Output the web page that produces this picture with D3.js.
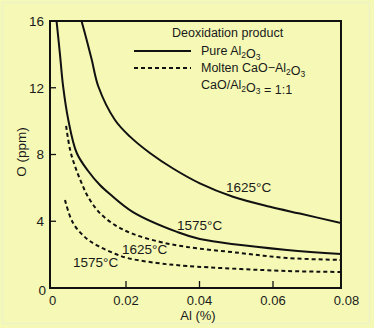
<!DOCTYPE html>
<html><head><meta charset="utf-8">
<script src="https://cdn.jsdelivr.net/npm/d3@7"></script>
<style>
html,body{margin:0;padding:0;background:#f5f9b5;}
svg{display:block;}
text{font-family:"Liberation Sans",Arial,Helvetica,sans-serif;fill:#1a1a1a;}
</style></head>
<body>
<script>
// ---- data (Al in %, O in ppm) ----
const xTicks = [0, 0.02, 0.04, 0.06, 0.08];
const xTickLabels = ["0", "0.02", "0.04", "0.06", "0.08"];
const yTicks = [0, 4, 8, 12, 16];
const yTickLabels = ["0", "4", "8", "12", "16"];

const pure1625Al = [0.0079, 0.0093, 0.0107, 0.0125, 0.0170, 0.0211, 0.0265, 0.0328, 0.0401, 0.0491, 0.0592, 0.0673, 0.0785];
const pure1625O  = [16.0, 14.86, 13.66, 12.06, 10.07, 9.07, 8.09, 7.16, 6.27, 5.47, 4.87, 4.46, 3.89];

const pure1575Al = [0.0011, 0.0020, 0.0029, 0.0043, 0.0066, 0.0097, 0.0129, 0.0156, 0.0219, 0.0339, 0.0401, 0.0638, 0.0785];
const pure1575O  = [16.0, 14.08, 12.06, 10.07, 8.09, 7.01, 6.17, 5.63, 4.55, 3.36, 2.94, 2.28, 2.04];

const cao1625Al = [0.0037, 0.0048, 0.0061, 0.0078, 0.0097, 0.0129, 0.0170, 0.0219, 0.0293, 0.0366, 0.0510, 0.0638, 0.0785];
const cao1625O  = [9.71, 8.27, 7.31, 6.35, 5.45, 4.49, 3.77, 3.24, 2.76, 2.46, 2.10, 1.80, 1.68];

const cao1575Al = [0.0034, 0.0056, 0.0094, 0.0129, 0.0165, 0.0203, 0.0284, 0.0366, 0.0638, 0.0785];
const cao1575O  = [5.27, 3.89, 2.94, 2.46, 2.10, 1.80, 1.50, 1.32, 1.02, 0.96];

const seriesNames = ["Pure 1625", "Pure 1575", "CaO 1625", "CaO 1575"];
const curveLabels = ["1625°C", "1575°C", "1625°C", "1575°C"];
const xAxisEnd = 0.0785;

// ---- chart ----
const W = 374, H = 328;
const svg = d3.select("body").append("svg").attr("width", W).attr("height", H);

svg.append("rect").attr("x", 2.5).attr("y", 2.5).attr("width", W - 7).attr("height", H - 7)
  .attr("fill", "#f5f9b5").attr("stroke", "#eef3c6").attr("stroke-width", 1.5);

const x = d3.scaleLinear().domain([0, 0.08]).range([52.5, 346.5]);
const y = d3.scaleLinear().domain([0, 16]).range([288, 21]);

const pLeft = 50, pRight = x(xAxisEnd), pTop = y(16), pBottom = y(0);

svg.append("clipPath").attr("id", "clip").append("rect")
  .attr("x", pLeft).attr("y", pTop).attr("width", pRight - pLeft).attr("height", pBottom - pTop);

const line = d3.line().x(d => x(d[0])).y(d => y(d[1])).curve(d3.curveCatmullRom.alpha(0.5));

const zip = (a, b) => a.map((v, i) => [v, b[i]]);
const series = [
  {pts: zip(pure1625Al, pure1625O), dash: null},
  {pts: zip(pure1575Al, pure1575O), dash: null},
  {pts: zip(cao1625Al, cao1625O), dash: "4,3"},
  {pts: zip(cao1575Al, cao1575O), dash: "4,3"}
];

const g = svg.append("g").attr("clip-path", "url(#clip)");
g.selectAll("path").data(series).join("path")
  .attr("d", d => line(d.pts))
  .attr("fill", "none").attr("stroke", "#111")
  .attr("stroke-width", 2)
  .attr("stroke-dasharray", d => d.dash);

// frame
svg.append("rect").attr("x", pLeft).attr("y", pTop).attr("width", pRight - pLeft).attr("height", pBottom - pTop)
  .attr("fill", "none").attr("stroke", "#111").attr("stroke-width", 2);

// ticks (inward)
svg.selectAll(".xt").data(xTicks.filter(v => v > 0 && v < 0.08)).join("line")
  .attr("x1", d => x(d)).attr("x2", d => x(d)).attr("y1", pBottom).attr("y2", pBottom - 7)
  .attr("stroke", "#111").attr("stroke-width", 1.3);
svg.selectAll(".yt").data(yTicks.filter(v => v > 0 && v < 16)).join("line")
  .attr("x1", pLeft).attr("x2", pLeft + 6).attr("y1", d => y(d)).attr("y2", d => y(d))
  .attr("stroke", "#111").attr("stroke-width", 1.3);

// tick labels
svg.selectAll(".xl").data(xTicks).join("text")
  .attr("x", d => x(d)).attr("y", 305).attr("text-anchor", "middle")
  .attr("font-size", 13).text((d, i) => xTickLabels[i]);
svg.selectAll(".yl").data(yTicks).join("text")
  .attr("x", d => d === 0 ? 46 : 44).attr("y", d => y(d) + (d === 0 ? 2.5 : 0)).attr("dy", "0.36em")
  .attr("text-anchor", "end").attr("font-size", 13.5).text((d, i) => yTickLabels[i]);

// axis titles
svg.append("text").attr("x", 198).attr("y", 320).attr("text-anchor", "middle")
  .attr("font-size", 13).text("Al (%)");
svg.append("text").attr("transform", "translate(26,152) rotate(-90)").attr("text-anchor", "middle")
  .attr("font-size", 13.5).text("O (ppm)");

// curve labels
const labelPos = [[226, 192], [177, 230], [122, 254], [73, 267]];
svg.selectAll(".cl").data(curveLabels).join("text")
  .attr("x", (d, i) => labelPos[i][0]).attr("y", (d, i) => labelPos[i][1])
  .attr("font-size", 13.5).text(d => d);

// legend
const lg = svg.append("g");
lg.append("text").attr("x", 172).attr("y", 37).attr("font-size", 12.5).text("Deoxidation product");
lg.append("line").attr("x1", 134).attr("x2", 191).attr("y1", 51).attr("y2", 51)
  .attr("stroke", "#111").attr("stroke-width", 2);
lg.append("line").attr("x1", 134).attr("x2", 191).attr("y1", 68).attr("y2", 68)
  .attr("stroke", "#111").attr("stroke-width", 2).attr("stroke-dasharray", "4,3");

function chem(sel, parts) {
  parts.forEach(p => {
    if (typeof p === "string") sel.append("tspan").text(p);
    else sel.append("tspan").attr("font-size", 8.5).attr("dy", p.dy).text(p.t);
  });
}
const t1 = lg.append("text").attr("x", 201).attr("y", 55).attr("font-size", 12.5);
chem(t1, ["Pure Al", {t: "2", dy: 2.5}, {t: "", dy: -2.5}, "O", {t: "3", dy: 2.5}]);
const t2 = lg.append("text").attr("x", 201).attr("y", 72).attr("font-size", 12.5);
chem(t2, ["Molten CaO\u2212Al", {t: "2", dy: 2.5}, {t: "", dy: -2.5}, "O", {t: "3", dy: 2.5}]);
const t3 = lg.append("text").attr("x", 201).attr("y", 89).attr("font-size", 12.5);
chem(t3, ["CaO/Al", {t: "2", dy: 2.5}, {t: "", dy: -2.5}, "O", {t: "3", dy: 2.5}, {t: "", dy: -2.5}, " = 1:1"]);
</script>
</body></html>
